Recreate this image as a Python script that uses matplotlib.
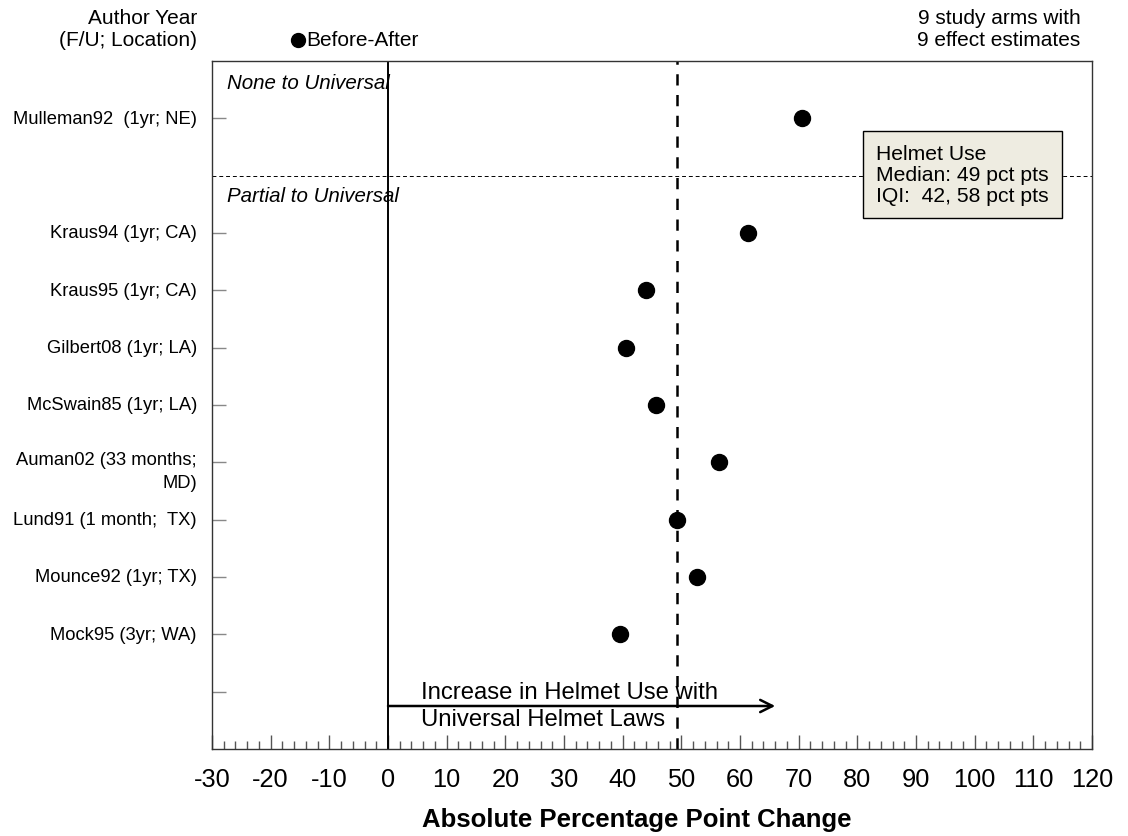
import numpy as np
import matplotlib
matplotlib.use("Agg")
import matplotlib.pyplot as plt
from matplotlib.lines import Line2D
from matplotlib.ticker import MultipleLocator

plt.rcParams['font.family'] = ['Liberation Sans', 'DejaVu Sans']

# Data
studies = ["Mulleman92  (1yr; NE)", "Kraus94 (1yr; CA)", "Kraus95 (1yr; CA)",
           "Gilbert08 (1yr; LA)", "McSwain85 (1yr; LA)", "Auman02 (33 months;\nMD)",
           "Lund91 (1 month;  TX)", "Mounce92 (1yr; TX)", "Mock95 (3yr; WA)"]
rows = [1, 3, 4, 5, 6, 7, 8, 9, 10]
change = [70.6, 61.3, 43.9, 40.5, 45.7, 56.4, 49.3, 52.6, 39.5]
median = 49.3
xticks = np.arange(-30, 121, 10)

fig = plt.figure(figsize=(11.28, 8.37), dpi=100)
ax = fig.add_axes([212/1128, 1-750/837, (1092-212)/1128, (750-62)/837])

ax.set_xlim(-30, 120)
ax.set_ylim(12, 0)

# reference lines
ax.axvline(0, color="black", lw=1.4, zorder=2)
ax.axvline(median, color="black", lw=1.8, linestyle=(0, (4.5, 3.8)), zorder=2)
ax.axhline(2, color="black", lw=0.7, linestyle=(0, (4, 3)), zorder=1)

ax.plot(change, rows, "o", color="black", markersize=11.5, linestyle="none", zorder=3)

# group labels
ax.text(-27.4, 0.38, "None to Universal", style="italic", fontsize=14.8, va="center")
ax.text(-27.4, 2.35, "Partial to Universal", style="italic", fontsize=14.8, va="center")

# arrow
ax.annotate("", xy=(66, 11.25), xytext=(0, 11.25),
            arrowprops=dict(arrowstyle="->", color="black", lw=1.8,
                            mutation_scale=22, shrinkA=0, shrinkB=0))
ax.text(5.6, 11.0, "Increase in Helmet Use with", fontsize=17.2, va="center")
ax.text(5.6, 11.47, "Universal Helmet Laws", fontsize=17.2, va="center")

# summary box
ax.text(83.2, 1.98, "Helmet Use\nMedian: 49 pct pts\nIQI:  42, 58 pct pts",
        fontsize=15.2, va="center", ha="left", linespacing=1.12,
        bbox=dict(boxstyle="square,pad=0.62", facecolor="#EEECE1",
                  edgecolor="black", lw=1))

# x axis
ax.set_xticks(xticks)
ax.set_xticklabels([str(t) for t in xticks], fontsize=18.3)
ax.xaxis.set_minor_locator(MultipleLocator(2))
ax.tick_params(axis="x", which="major", direction="in", length=10, width=1,
               color="#555555", pad=13)
ax.tick_params(axis="x", which="minor", direction="in", length=5.5, width=1,
               color="#555555")
ax.set_xlabel("Absolute Percentage Point Change", fontsize=18.5, fontweight="bold")
ax.xaxis.label.set_verticalalignment("center")
ax.xaxis.set_label_coords((637-212)/(1092-212), -(820-750)/(750-62))

# y axis
ax.set_yticks(rows[:1] + [3, 4, 5, 6, 7, 8, 9, 10, 11])
ax.set_yticklabels([])
ax.tick_params(axis="y", direction="in", length=10, width=1, color="#888888")
for lab, r in zip(studies, rows):
    if "\n" in lab:
        ax.annotate(lab, xy=(0, r), xycoords=("axes fraction", "data"),
                    xytext=(-15, 11), textcoords="offset pixels",
                    ha="right", va="top", fontsize=13.2, linespacing=1.4)
    else:
        ax.annotate(lab, xy=(0, r), xycoords=("axes fraction", "data"),
                    xytext=(-15, 0), textcoords="offset pixels",
                    ha="right", va="center", fontsize=13.2)

for s in ax.spines.values():
    s.set_color("#333333")
    s.set_linewidth(1)

# header texts
fig.text(197/1128, 1-18/837, "Author Year", ha="right", va="center", fontsize=15)
fig.text(197/1128, 1-41/837, "(F/U; Location)", ha="right", va="center", fontsize=15)
fig.add_artist(Line2D([298/1128], [1-41/837], marker="o", color="black",
                      markersize=10, linestyle="none", transform=fig.transFigure))
fig.text(306/1128, 1-41/837, "Before-After", ha="left", va="center", fontsize=15)
fig.text(999/1128, 1-18/837, "9 study arms with", ha="center", va="center", fontsize=15)
fig.text(999/1128, 1-41/837, "9 effect estimates", ha="center", va="center", fontsize=15)

fig.savefig("out.png", dpi=100)
